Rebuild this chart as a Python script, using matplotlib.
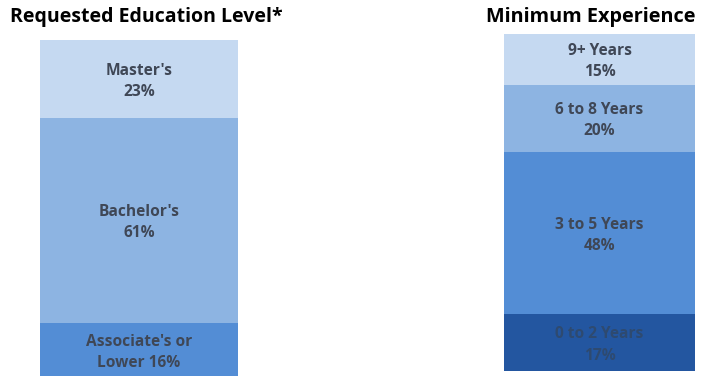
import matplotlib
matplotlib.use("Agg")
import matplotlib.pyplot as plt

# left bar: requested education level (bottom -> top)
edu_labels = ["Associate's or\nLower", "Bachelor's", "Master's"]
edu_pct = [16, 61, 23]
edu_colors = ["#538DD5", "#8DB4E2", "#C5D9F1"]

# right bar: minimum experience (bottom -> top)
exp_labels = ["0 to 2 Years", "3 to 5 Years", "6 to 8 Years", "9+ Years"]
exp_pct = [17, 48, 20, 15]
exp_colors = ["#2356A0", "#538DD5", "#8DB4E2", "#C5D9F1"]

plt.rcParams["font.family"] = ["Open Sans", "DejaVu Sans"]
W, H = 703, 376
fig = plt.figure(figsize=(W / 100, H / 100), dpi=100)

def px_axes(x0, x1, ytop, ybot):
    return fig.add_axes([x0 / W, 1 - ybot / H, (x1 - x0) / W, (ybot - ytop) / H])

def stacked(ax, labels, pcts, colors, txtcolors):
    bottom = 0
    for lab, p, c, tc in zip(labels, pcts, colors, txtcolors):
        ax.bar(0, p, bottom=bottom, width=1, color=c, edgecolor="none")
        if "\n" in lab:
            s = f"{lab} {p}%"
        else:
            s = f"{lab}\n{p}%"
        # labels sit slightly below the segment middle
        ax.text(0, bottom + p / 2, s, ha="center", va="center", fontsize=11.2,
                fontweight="bold", color=tc, linespacing=1.45,
                transform=ax.transData + matplotlib.transforms.ScaledTranslation(0, -0.025, fig.dpi_scale_trans))
        bottom += p
    ax.set_xlim(-0.5, 0.5)
    ax.set_ylim(0, 100)
    ax.axis("off")

ax1 = px_axes(40, 238, 40, 377)
stacked(ax1, edu_labels, edu_pct, edu_colors, ["#3F4756"] * 3)
ax2 = px_axes(504, 695, 34, 371)
stacked(ax2, exp_labels, exp_pct, exp_colors, ["#2E4A70", "#3F4756", "#3F4756", "#3F4756"])

fig.text(146 / W, 1 - 17 / H, "Requested Education Level*", ha="center", va="center",
         fontsize=14, fontweight="bold", color="black")
fig.text(591 / W, 1 - 17 / H, "Minimum Experience", ha="center", va="center",
         fontsize=14.3, fontweight="bold", color="black")

fig.savefig("out.png", dpi=100, facecolor="white")
